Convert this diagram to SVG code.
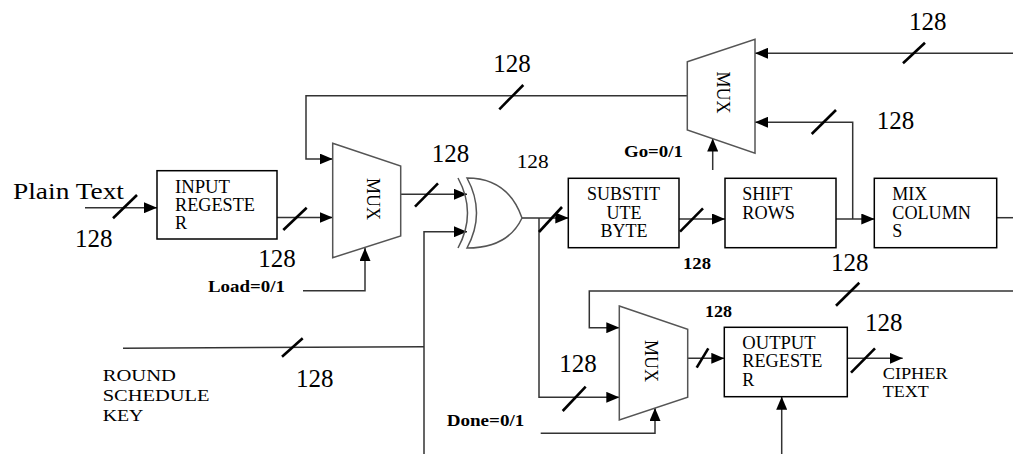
<svg xmlns="http://www.w3.org/2000/svg" width="1013" height="454" viewBox="0 0 1013 454" font-family="'Liberation Serif', 'DejaVu Serif', serif">
<style>
text{font-family:'Liberation Serif','DejaVu Serif',serif;fill:#000}
.box{fill:#fff;stroke:#000;stroke-width:1.5}
.mux{fill:#fff;stroke:#555;stroke-width:1.5}
.w{fill:none;stroke:#333;stroke-width:1.5}
.sl{stroke:#000;stroke-width:2.6;stroke-linecap:butt}
.lbl{font-size:18px}
.n{font-size:25px}
.b{font-size:16px;font-weight:bold}
.mt{font-size:18px}
</style>
<defs>
<marker id="ah" markerUnits="userSpaceOnUse" markerWidth="13" markerHeight="11" refX="13" refY="5.5" orient="auto">
<path d="M0,0 L13,5.5 L0,11 z" fill="#000"/>
</marker>
</defs>
<rect width="1013" height="454" fill="#fff"/>
<g id="connectors">
<path class="w" d="M85,207.7 H157" marker-end="url(#ah)"/>
<path class="w" d="M277,217.5 H332.7" marker-end="url(#ah)"/>
<path class="w" d="M303,290.7 H365 V248" marker-end="url(#ah)"/>
<path class="w" d="M687.3,95.7 H306 V159 H332.7" marker-end="url(#ah)"/>
<path class="w" d="M400.7,194.3 H467" marker-end="url(#ah)"/>
<path class="w" d="M424,454 V231.7 H467" marker-end="url(#ah)"/>
<path class="w" d="M123,348.3 L424,346.7"/>
<path class="w" d="M522,218 H568.3" marker-end="url(#ah)"/>
<path class="w" d="M539,218 V397.3 H619.3" marker-end="url(#ah)"/>
<path class="w" d="M679,219 H725" marker-end="url(#ah)"/>
<path class="w" d="M836,219 H874.3" marker-end="url(#ah)"/>
<path class="w" d="M852.7,219 V122.3 H755" marker-end="url(#ah)"/>
<path class="w" d="M1013,53.3 H755" marker-end="url(#ah)"/>
<path class="w" d="M712.7,170 V138.5" marker-end="url(#ah)"/>
<path class="w" d="M996.7,217.7 H1013"/>
<path class="w" d="M1013,291 H589.3 V327.7 H619.3" marker-end="url(#ah)"/>
<path class="w" d="M687.7,358.3 H724.3" marker-end="url(#ah)"/>
<path class="w" d="M540.7,433.3 H655 V408" marker-end="url(#ah)"/>
<path class="w" d="M781.7,454 V396.7" marker-end="url(#ah)"/>
<path class="w" d="M847.3,358.3 H902.7" marker-end="url(#ah)"/>
<line class="sl" x1="113" y1="218.3" x2="137" y2="195"/>
<line class="sl" x1="283.3" y1="230" x2="306.7" y2="207.7"/>
<line class="sl" x1="499.3" y1="109.3" x2="523.3" y2="85"/>
<line class="sl" x1="415" y1="206.7" x2="438" y2="183.3"/>
<line class="sl" x1="539" y1="232" x2="562" y2="207"/>
<line class="sl" x1="680" y1="231.7" x2="703" y2="208.3"/>
<line class="sl" x1="903" y1="63.3" x2="925" y2="42.7"/>
<line class="sl" x1="811.7" y1="134" x2="836" y2="110"/>
<line class="sl" x1="282" y1="356.7" x2="302.7" y2="338.3"/>
<line class="sl" x1="562.7" y1="411" x2="585.7" y2="386.7"/>
<line class="sl" x1="836" y1="305.7" x2="859.3" y2="282.7"/>
<line class="sl" x1="696.7" y1="367.7" x2="708.3" y2="348.3"/>
<line class="sl" x1="851" y1="372.7" x2="875" y2="348.3"/>
</g>
<g id="plain-text">
<text x="13" y="198.5" font-size="24" textLength="111" lengthAdjust="spacingAndGlyphs">Plain Text</text>
<text class="n" x="75" y="246.7">128</text>
</g>
<g id="input-register">
<rect class="box" x="157" y="170.7" width="120" height="68.3"/>
<text class="lbl" x="175" y="193.3" textLength="55" lengthAdjust="spacingAndGlyphs">INPUT</text>
<text class="lbl" x="175" y="211.3" textLength="80" lengthAdjust="spacingAndGlyphs">REGESTE</text>
<text class="lbl" x="175" y="229.3">R</text>
<text class="n" x="258.3" y="267.3">128</text>
<text class="b" x="208" y="292.3" textLength="77" lengthAdjust="spacingAndGlyphs">Load=0/1</text>
</g>
<g id="mux1">
<polygon class="mux" points="332.7,143.3 400.7,166 400.7,236 332.7,257.7"/>
<text class="mt" transform="translate(372.5,199) rotate(90)" text-anchor="middle" dominant-baseline="central" textLength="42" lengthAdjust="spacingAndGlyphs">MUX</text>
<text class="n" x="493.3" y="71.7">128</text>
<text class="n" x="431.7" y="161.7">128</text>
</g>
<g id="xor">
<path d="M458,178 Q477,213 458,248" fill="none" stroke="#555" stroke-width="1.5"/>
<path d="M467,178 Q508,178 522,218 Q508,248 467,248 Q486,213 467,178 Z" fill="#fff" stroke="#555" stroke-width="1.5"/>
<text x="516.7" y="168.3" font-size="19" textLength="32" lengthAdjust="spacingAndGlyphs">128</text>
</g>
<g id="mux2">
<polygon class="mux" points="687.3,61.7 755,39.3 755,153.3 687.3,130"/>
<text class="mt" transform="translate(722.5,92.5) rotate(90)" text-anchor="middle" dominant-baseline="central" textLength="42" lengthAdjust="spacingAndGlyphs">MUX</text>
<text class="b" x="624" y="156.7" textLength="59" lengthAdjust="spacingAndGlyphs">Go=0/1</text>
<text class="n" x="909" y="30">128</text>
<text class="n" x="876.7" y="129.3">128</text>
</g>
<g id="substitute-byte">
<rect class="box" x="568.3" y="178.3" width="110.7" height="69.4"/>
<text class="lbl" x="623.5" y="200" text-anchor="middle" textLength="73" lengthAdjust="spacingAndGlyphs">SUBSTIT</text>
<text class="lbl" x="624" y="219" text-anchor="middle">UTE</text>
<text class="lbl" x="624" y="237.3" text-anchor="middle">BYTE</text>
<text class="b" x="683" y="269.3" font-size="17" textLength="28" lengthAdjust="spacingAndGlyphs">128</text>
</g>
<g id="shift-rows">
<rect class="box" x="725" y="178.3" width="111" height="69.4"/>
<text class="lbl" x="742.3" y="200" textLength="50" lengthAdjust="spacingAndGlyphs">SHIFT</text>
<text class="lbl" x="742.3" y="219" textLength="52.7" lengthAdjust="spacingAndGlyphs">ROWS</text>
</g>
<g id="mix-columns">
<rect class="box" x="874.3" y="178.3" width="122.4" height="69.4"/>
<text class="lbl" x="892.3" y="200">MIX</text>
<text class="lbl" x="892.3" y="219" textLength="78.7" lengthAdjust="spacingAndGlyphs">COLUMN</text>
<text class="lbl" x="892.3" y="237.3">S</text>
</g>
<g id="round-key">
<text x="102.7" y="381" font-size="17" textLength="73.3" lengthAdjust="spacingAndGlyphs">ROUND</text>
<text x="102.7" y="401" font-size="17" textLength="106.7" lengthAdjust="spacingAndGlyphs">SCHEDULE</text>
<text x="102.7" y="421" font-size="17" textLength="40.7" lengthAdjust="spacingAndGlyphs">KEY</text>
<text class="n" x="296" y="386.7">128</text>
</g>
<g id="mux3">
<polygon class="mux" points="619.3,306 687.7,329.3 687.7,397.3 619.3,420"/>
<text class="mt" transform="translate(651,361) rotate(90)" text-anchor="middle" dominant-baseline="central" textLength="42" lengthAdjust="spacingAndGlyphs">MUX</text>
<text class="b" x="446.7" y="426" textLength="77.6" lengthAdjust="spacingAndGlyphs">Done=0/1</text>
<text class="n" x="559.3" y="371.7">128</text>
<text class="b" x="705" y="317.3" font-size="17" textLength="27" lengthAdjust="spacingAndGlyphs">128</text>
<text class="n" x="831" y="271">128</text>
</g>
<g id="output-register">
<rect class="box" x="724.3" y="327.3" width="123" height="69.4"/>
<text class="lbl" x="742.3" y="349.3" textLength="73.3" lengthAdjust="spacingAndGlyphs">OUTPUT</text>
<text class="lbl" x="742.3" y="367.3" textLength="80" lengthAdjust="spacingAndGlyphs">REGESTE</text>
<text class="lbl" x="742.3" y="385.7">R</text>
<text class="n" x="865" y="330.7">128</text>
</g>
<g id="cipher-text">
<text x="882.7" y="379.3" font-size="17" textLength="65" lengthAdjust="spacingAndGlyphs">CIPHER</text>
<text x="882.7" y="397.3" font-size="17" textLength="46" lengthAdjust="spacingAndGlyphs">TEXT</text>
</g>
</svg>
